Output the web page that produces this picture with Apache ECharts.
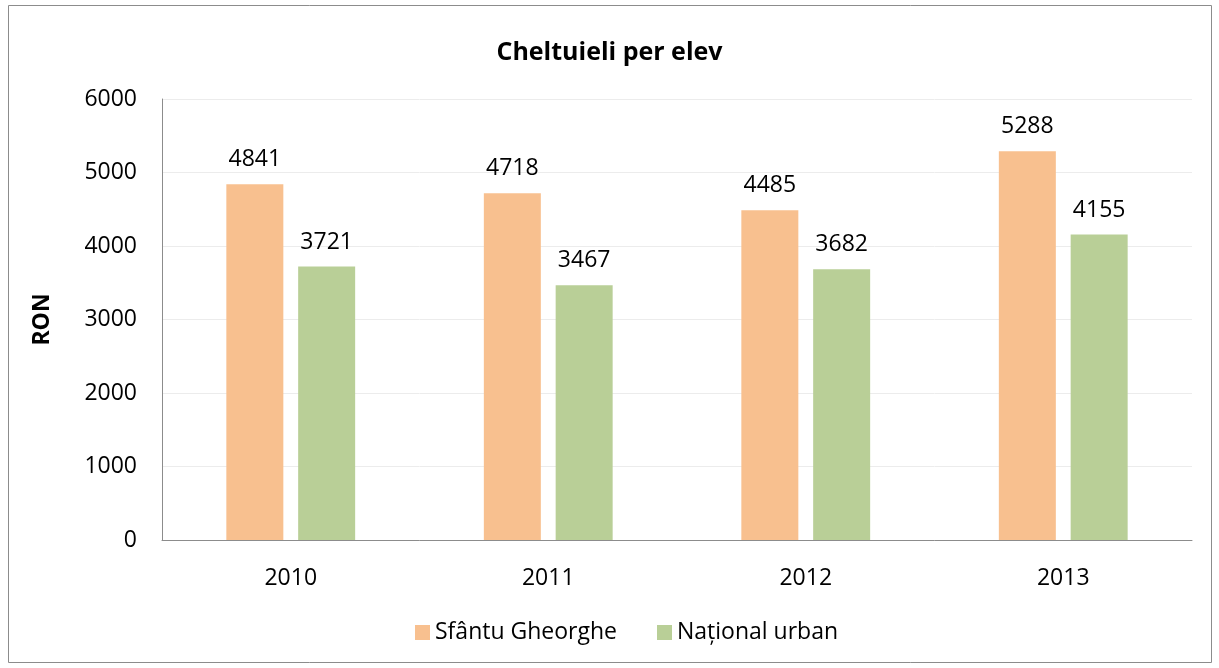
<!DOCTYPE html>
<html><head><meta charset="utf-8">
<script src="https://cdn.jsdelivr.net/npm/echarts@6/dist/echarts.min.js"></script>
<style>html,body{margin:0;padding:0;background:#fff}#c{width:1219px;height:668px}</style>
</head><body><div id="c"></div>
<script>
const categories = ['2010','2011','2012','2013'];
const sfantuGheorghe = [4841, 4718, 4485, 5288];
const nationalUrban = [3721, 3467, 3682, 4155];
const seriesNames = ['Sfântu Gheorghe', 'Național urban'];
const yTicks = {min: 0, max: 6000, interval: 1000};

const font = '"Open Sans", Lato, sans-serif';
const fs = 23;
const chart = echarts.init(document.getElementById('c'));
chart.setOption({
  animation: false,
  textStyle: {fontFamily: font},
  graphic: [{type: 'rect', shape: {x: 8.5, y: 5.5, width: 1203, height: 657}, style: {fill: 'none', stroke: '#8c8c8c', lineWidth: 1}}],
  title: {text: 'Cheltuieli per elev', left: 'center', top: 35, textStyle: {fontFamily: font, fontSize: 25, fontWeight: 'bold', color: '#000'}},
  legend: {left: 410, bottom: 19, itemWidth: 15, itemHeight: 15, itemGap: 40, icon: 'rect', textStyle: {fontFamily: font, fontSize: fs, color: '#000'}, data: seriesNames},
  grid: {left: 162, right: 27, top: 99, bottom: 128, containLabel: false},
  xAxis: {type: 'category', data: categories, axisTick: {show: false},
    axisLine: {lineStyle: {color: '#8c8c8c', width: 1}},
    axisLabel: {fontFamily: font, fontSize: fs, color: '#000', margin: 27}},
  yAxis: {type: 'value', min: yTicks.min, max: yTicks.max, interval: yTicks.interval,
    name: 'RON', nameLocation: 'middle', nameGap: 108, nameRotate: 90,
    nameTextStyle: {fontFamily: font, fontSize: fs, fontWeight: 'bold', color: '#000'},
    axisLine: {show: true, lineStyle: {color: '#8c8c8c', width: 1}}, axisTick: {show: false},
    splitLine: {lineStyle: {color: '#ececec'}},
    axisLabel: {fontFamily: font, fontSize: fs, color: '#000', margin: 25, formatter: v => String(v)}},
  series: [
    {name: seriesNames[0], type: 'bar', data: sfantuGheorghe, barWidth: 57, barGap: '26%', itemStyle: {color: '#F8C08F'},
     label: {show: true, position: 'top', distance: 13, fontFamily: font, fontSize: fs, color: '#000'}},
    {name: seriesNames[1], type: 'bar', data: nationalUrban, barWidth: 57, barGap: '26%', itemStyle: {color: '#B9CF97'},
     label: {show: true, position: 'top', distance: 13, fontFamily: font, fontSize: fs, color: '#000'}}
  ]
});
</script></body></html>
